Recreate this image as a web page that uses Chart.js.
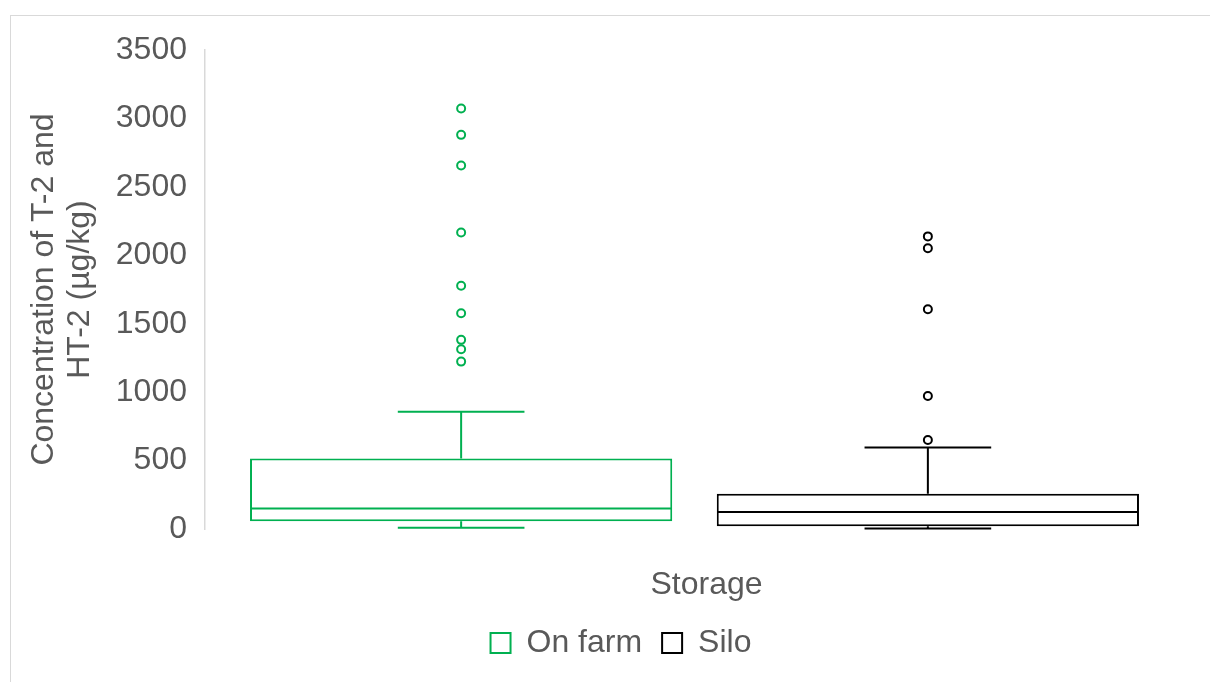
<!DOCTYPE html>
<html>
<head>
<meta charset="utf-8">
<script src="https://cdn.jsdelivr.net/npm/chart.js@4.4.1/dist/chart.umd.min.js"></script>
<style>
  html, body { margin: 0; padding: 0; background: #ffffff; }
  #wrap { position: relative; width: 1210px; height: 682px; overflow: hidden; }
  #frame { position: absolute; left: 10px; top: 15px; width: 1300px; height: 800px;
           border-left: 1px solid #d9d9d9; border-top: 1px solid #d9d9d9; box-sizing: border-box; }
  #c { position: absolute; left: 0; top: 0; }
</style>
</head>
<body>
<div id="wrap">
  <div id="frame"></div>
  <canvas id="c" width="1210" height="682"></canvas>
</div>
<script>
// Categories and series
const categories = ['Storage'];
const seriesNames = ['On farm', 'Silo'];
const seriesColors = ['#00B050', '#000000'];

// Five-number summaries: [min, q1, median, q3, max] (µg/kg)
const onFarmStats = [9, 56, 149, 515, 857];
const siloStats = [4, 20, 124, 258, 595];

// Outliers (µg/kg)
const onFarmOutliers = [1223, 1313, 1382, 1576, 1777, 2167, 2656, 2880, 3073];
const siloOutliers = [650, 972, 1606, 2052, 2138];

// Y axis ticks
const yMin = 0;
const yMax = 3500;
const yStep = 500;

const allStats = [onFarmStats, siloStats];
const allOutliers = [onFarmOutliers, siloOutliers];

const FONT = '"Liberation Sans", Arial, sans-serif';
const TEXT = '#595959';
const FS = 32;

// Draws medians, whiskers, caps and outlier circles on top of the box bars
const boxPlotExtras = {
  id: 'boxPlotExtras',
  afterDatasetsDraw(chart) {
    const ctx = chart.ctx;
    const y = chart.scales.y;
    chart.data.datasets.forEach((ds, i) => {
      const meta = chart.getDatasetMeta(i);
      if (meta.hidden) return;
      const bar = meta.data[0];
      const [mn, q1, med, q3, mx] = allStats[i];
      const cx = bar.x;
      const half = bar.width / 2;
      const capHalf = bar.width * 0.15;
      ctx.save();
      ctx.strokeStyle = seriesColors[i];
      ctx.lineWidth = 2;
      ctx.beginPath();
      // median
      ctx.moveTo(cx - half + 1, y.getPixelForValue(med));
      ctx.lineTo(cx + half - 1, y.getPixelForValue(med));
      // upper whisker
      ctx.moveTo(cx, y.getPixelForValue(q3));
      ctx.lineTo(cx, y.getPixelForValue(mx));
      ctx.moveTo(cx - capHalf, y.getPixelForValue(mx));
      ctx.lineTo(cx + capHalf, y.getPixelForValue(mx));
      // lower whisker
      ctx.moveTo(cx, y.getPixelForValue(q1));
      ctx.lineTo(cx, y.getPixelForValue(mn));
      ctx.moveTo(cx - capHalf, y.getPixelForValue(mn));
      ctx.lineTo(cx + capHalf, y.getPixelForValue(mn));
      ctx.stroke();
      // outliers
      ctx.fillStyle = '#ffffff';
      allOutliers[i].forEach(v => {
        ctx.beginPath();
        ctx.arc(cx, y.getPixelForValue(v), 4, 0, Math.PI * 2);
        ctx.fill();
        ctx.stroke();
      });
      ctx.restore();
    });
  }
};

new Chart(document.getElementById('c'), {
  type: 'bar',
  data: {
    labels: categories,
    datasets: seriesNames.map((name, i) => ({
      label: name,
      data: [[allStats[i][1], allStats[i][3]]],
      backgroundColor: '#ffffff',
      borderColor: seriesColors[i],
      borderWidth: 2,
      borderSkipped: false,
      categoryPercentage: 0.9535,
      barPercentage: 0.9046
    }))
  },
  options: {
    responsive: false,
    animation: false,
    layout: { padding: { left: 58, right: 26, top: 50, bottom: 13 } },
    plugins: {
      legend: {
        position: 'bottom',
        labels: {
          boxWidth: 20,
          boxHeight: 20,
          padding: 20,
          color: TEXT,
          font: { family: FONT, size: FS }
        }
      },
      tooltip: { enabled: false },
      title: { display: false }
    },
    scales: {
      x: {
        grid: { display: false, drawTicks: false },
        border: { display: false },
        ticks: { color: TEXT, font: { family: FONT, size: FS }, padding: 37, labelOffset: 12 },
        afterFit(scale) { scale.height = 78; }
      },
      y: {
        min: yMin,
        max: yMax,
        grid: { display: false, drawTicks: false },
        border: { display: true, color: '#d9d9d9', width: 1.5 },
        ticks: {
          stepSize: yStep,
          color: TEXT,
          font: { family: FONT, size: FS },
          padding: 18,
          callback: v => String(v)
        },
        title: {
          display: true,
          text: ['Concentration of T-2 and', 'HT-2 (µg/kg)'],
          color: TEXT,
          font: { family: FONT, size: FS, lineHeight: 1.125 },
          padding: { top: -32, bottom: 0 }
        },
        afterFit(scale) { scale.width = 147; }
      }
    }
  },
  plugins: [boxPlotExtras]
});
</script>
</body>
</html>
